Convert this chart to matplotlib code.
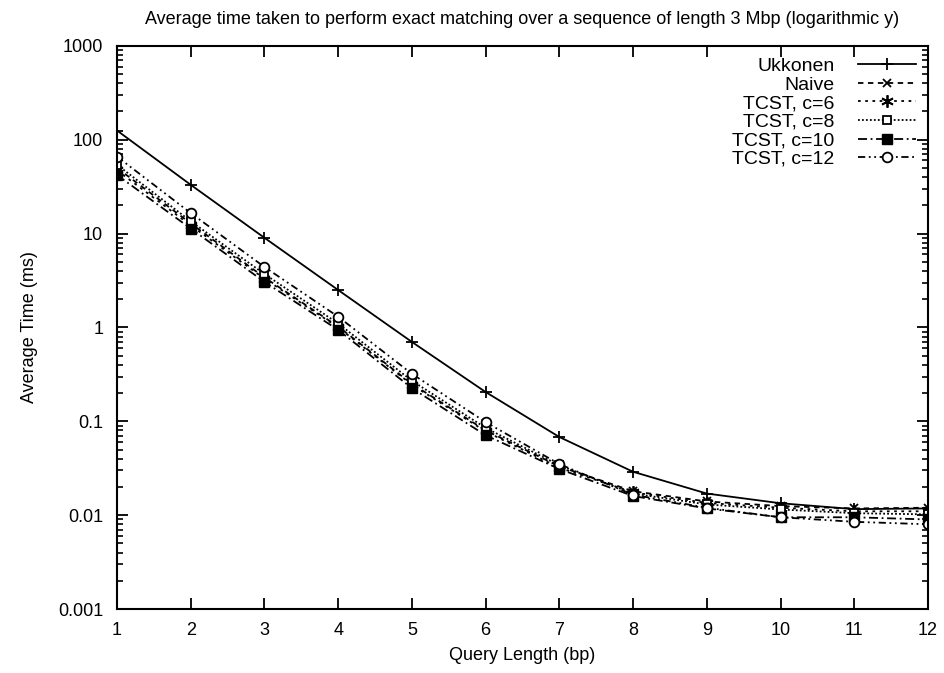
import matplotlib
matplotlib.use('Agg')
import matplotlib.pyplot as plt
from matplotlib.ticker import LogLocator, FixedLocator, NullFormatter

plt.rcParams['font.family'] = ['Liberation Sans', 'DejaVu Sans']

query_len = [1, 2, 3, 4, 5, 6, 7, 8, 9, 10, 11, 12]

ukkonen = [125, 33, 9.0, 2.5, 0.70, 0.205, 0.068, 0.029, 0.017, 0.0134, 0.0116, 0.0118]
naive = [50, 12.8, 3.4, 1.02, 0.25, 0.080, 0.033, 0.018, 0.014, 0.0125, 0.0118, 0.012]
tcst_c6 = [47, 12.2, 3.3, 1.0, 0.245, 0.078, 0.032, 0.0175, 0.0135, 0.012, 0.011, 0.011]
tcst_c8 = [54, 13.5, 3.7, 1.1, 0.27, 0.085, 0.034, 0.017, 0.013, 0.0115, 0.0105, 0.0102]
tcst_c10 = [42, 11.3, 3.05, 0.94, 0.225, 0.071, 0.031, 0.016, 0.0118, 0.0095, 0.0095, 0.009]
tcst_c12 = [66, 16.5, 4.4, 1.3, 0.32, 0.098, 0.035, 0.0165, 0.012, 0.0095, 0.0085, 0.008]

y_ticks = [0.001, 0.01, 0.1, 1, 10, 100, 1000]
y_labels = ['0.001', '0.01', '0.1', '1', '10', '100', '1000']

fig = plt.figure(figsize=(9.44, 6.73), dpi=100)
ax = fig.add_axes([0.124, 0.095, 0.859, 0.837])

lw = 1.3
ax.plot(query_len, ukkonen, color='black', linestyle='-', marker='+', markersize=9,
        markeredgewidth=1.3, linewidth=lw, label='Ukkonen')
ax.plot(query_len, naive, color='black', linestyle=(0, (3, 2.5)), marker='x', markersize=6,
        markeredgewidth=1.3, linewidth=lw, label='Naive')
ax.plot(query_len, tcst_c6, color='black', linestyle=(0, (1.5, 2.5)), marker=(6, 2, 0), markersize=9,
        markeredgewidth=1.3, linewidth=lw, label='TCST, c=6')
ax.plot(query_len, tcst_c8, color='black', linestyle=(0, (1, 1.2)), marker='s', markersize=6,
        markeredgewidth=1.3, markerfacecolor='white', linewidth=lw, label='TCST, c=8')
ax.plot(query_len, tcst_c10, color='black', linestyle=(0, (5, 2, 1, 2)), marker='s', markersize=7,
        markerfacecolor='black', linewidth=lw, label='TCST, c=10')
ax.plot(query_len, tcst_c12, color='black', linestyle=(0, (4, 2, 1, 2, 1, 2)), marker='o', markersize=7,
        markeredgewidth=1.3, markerfacecolor='white', linewidth=lw, label='TCST, c=12')

ax.set_yscale('log')
ax.set_xlim(1, 12)
ax.set_ylim(0.001, 1000)
ax.set_xticks(query_len)
ax.yaxis.set_major_locator(FixedLocator(y_ticks))
ax.set_yticklabels(y_labels)
ax.yaxis.set_minor_locator(LogLocator(base=10, subs=range(2, 10), numticks=20))
ax.yaxis.set_minor_formatter(NullFormatter())

ax.tick_params(which='both', direction='in', top=True, right=True, labelsize=13, colors='black')
ax.tick_params(axis='y', which='major', pad=10)
ax.tick_params(axis='x', which='major', pad=9)
ax.tick_params(which='major', length=8, width=1.3)
ax.tick_params(which='minor', length=4, width=1.2)
for s in ax.spines.values():
    s.set_linewidth(1.5)

ax.set_xlabel('Query Length (bp)', fontsize=13, labelpad=6)
ax.set_ylabel('Average Time (ms)', fontsize=13, labelpad=14)
ax.set_title('Average time taken to perform exact matching over a sequence of length 3 Mbp (logarithmic y)',
             fontsize=13, pad=16)

leg = ax.legend(loc='upper right', markerfirst=False, frameon=False, fontsize=14,
                handlelength=3.0, labelspacing=0.05, handletextpad=1.2,
                borderaxespad=0.2, borderpad=0.4)
for t in leg.get_texts():
    t.set_ha('right')

fig.savefig('out.png', dpi=100)
